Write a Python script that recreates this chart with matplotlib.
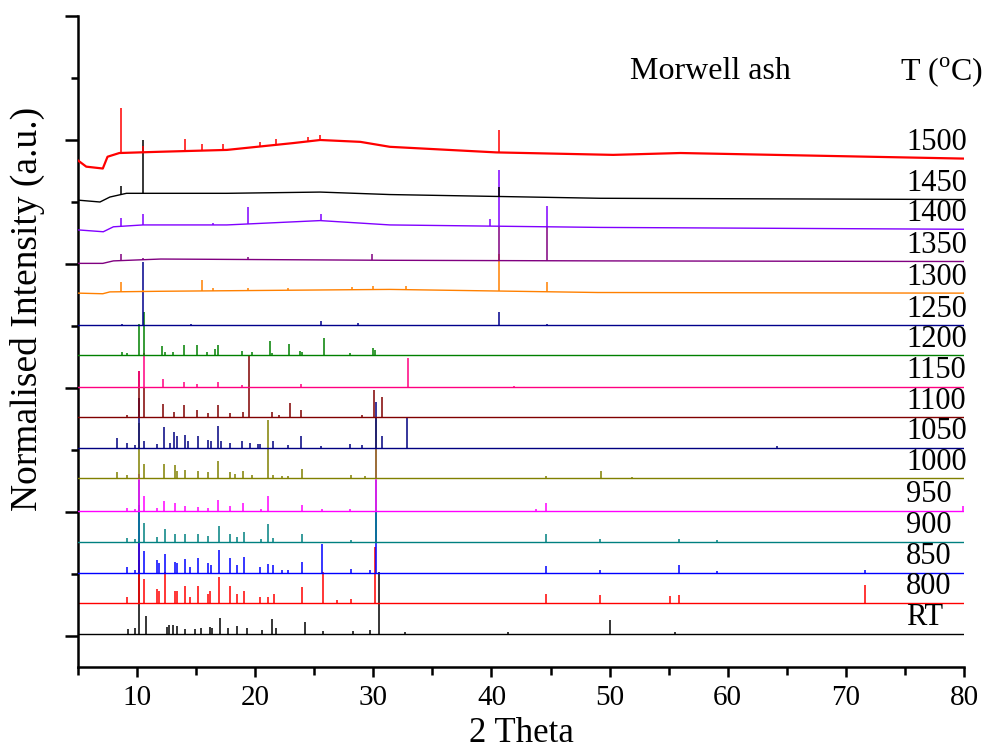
import numpy as np
import matplotlib
matplotlib.use('Agg')
import matplotlib.pyplot as plt

plt.rcParams['font.family'] = ['Liberation Serif', 'DejaVu Serif']
plt.rcParams['mathtext.fontset'] = 'custom'
plt.rcParams['mathtext.rm'] = 'Liberation Serif'

# sample temperatures, colours and vertical offsets (a.u.)
labels = ['RT', '800', '850', '900', '950', '1000', '1050', '1100',
          '1150', '1200', '1250', '1300', '1350', '1400', '1450', '1500']
colors = ['#000000', '#ff0000', '#0000ff', '#008080', '#ff00ff', '#808000',
          '#000080', '#800000', '#ff0080', '#008000', '#00008b', '#ff8000',
          '#800080', '#8000ff', '#000000', '#ff0000']
offsets = [0.03, 0.53, 1.02, 1.52, 2.02, 2.54, 3.04, 3.53,
           4.02, 4.53, 5.01, 5.53, 6.04, 6.56, 7.04, 7.70]

# curved baselines of the glassy high temperature samples (2theta, a.u.)
base_1300_x = [5, 7.1, 7.7, 12, 31.4, 49, 80]
base_1300_y = [5.53, 5.52, 5.55, 5.56, 5.59, 5.54, 5.53]
base_1350_x = [5, 7.1, 8, 12, 31, 49, 80]
base_1350_y = [6.01, 6.01, 6.05, 6.08, 6.06, 6.05, 6.04]
base_1400_x = [5, 7.14, 8.0, 10.5, 17.6, 25.5, 31.4, 49.2, 80]
base_1400_y = [6.55, 6.52, 6.60, 6.63, 6.63, 6.70, 6.63, 6.59, 6.56]
base_1450_x = [5, 6.86, 7.7, 9.1, 17.6, 25.5, 31.4, 49.2, 80]
base_1450_y = [7.03, 7.00, 7.08, 7.14, 7.14, 7.16, 7.12, 7.06, 7.04]
base_1500_x = [5, 5.7, 7.1, 7.5, 8.5, 11.9, 17.6, 23.2, 25.5, 28.9, 31.4, 40.4, 50.3, 56, 80]
base_1500_y = [7.67, 7.57, 7.54, 7.73, 7.79, 7.81, 7.84, 7.95, 8.0, 7.97, 7.89, 7.80, 7.76, 7.79, 7.70]

# peak lists: (2theta, height above baseline)
peaks_rt = [(9.26, 0.08), (9.83, 0.1), (10.2, 1.2), (10.73, 0.3), (12.5, 0.12), (12.7, 0.15),
            (13.07, 0.15), (13.35, 0.13), (14.06, 0.08), (14.9, 0.08), (15.4, 0.1), (16.2, 0.12),
            (16.37, 0.1), (17.0, 0.26), (17.73, 0.1), (18.5, 0.13), (19.27, 0.1), (20.55, 0.07),
            (21.4, 0.24), (21.73, 0.1), (24.2, 0.19), (25.77, 0.05), (28.3, 0.05), (29.7, 0.07),
            (30.48, 1.0), (32.7, 0.03), (41.4, 0.03), (50.03, 0.23), (55.5, 0.03)]
peaks_800 = [(9.15, 0.1), (10.2, 1.0), (10.6, 0.39), (11.66, 0.23), (11.86, 0.2), (12.34, 0.5),
             (13.2, 0.19), (13.35, 0.2), (14.06, 0.27), (14.5, 0.1), (15.2, 0.27), (16.0, 0.15),
             (16.2, 0.2), (16.96, 0.42), (17.86, 0.28), (18.43, 0.15), (19.05, 0.2), (20.4, 0.1),
             (21.1, 0.1), (21.6, 0.15), (24.0, 0.26), (25.7, 0.5), (26.9, 0.05), (28.1, 0.06),
             (30.14, 0.9), (44.62, 0.14), (49.19, 0.13), (55.1, 0.11), (55.9, 0.13), (71.62, 0.3)]
peaks_850 = [(9.18, 0.09), (9.83, 0.05), (10.19, 1.1), (10.59, 0.35), (11.66, 0.2), (11.86, 0.15),
             (12.36, 0.3), (13.21, 0.18), (13.35, 0.15), (14.1, 0.22), (14.48, 0.1), (15.19, 0.23),
             (16.03, 0.15), (16.26, 0.12), (16.94, 0.37), (17.87, 0.23), (18.43, 0.12), (19.05, 0.25),
             (20.41, 0.1), (21.06, 0.14), (21.54, 0.12), (22.24, 0.05), (22.8, 0.05), (23.93, 0.18),
             (25.63, 0.46), (28.11, 0.06), (29.72, 0.04), (30.2, 1.0), (44.62, 0.11), (49.19, 0.05),
             (55.9, 0.12), (59.07, 0.03), (71.62, 0.04)]
peaks_900 = [(9.18, 0.06), (9.83, 0.05), (10.19, 1.0), (10.59, 0.3), (11.66, 0.08), (12.36, 0.2),
             (13.21, 0.12), (14.1, 0.12), (15.19, 0.12), (16.03, 0.1), (16.94, 0.25), (17.87, 0.12),
             (18.43, 0.08), (19.05, 0.15), (20.46, 0.05), (21.06, 0.28), (21.54, 0.06), (23.93, 0.13),
             (28.11, 0.03), (30.2, 1.0), (44.62, 0.13), (49.19, 0.05), (55.9, 0.05), (59.07, 0.02)]
peaks_950 = [(9.18, 0.05), (9.83, 0.03), (10.19, 0.6), (10.59, 0.23), (11.66, 0.05), (12.31, 0.15),
             (13.21, 0.12), (14.1, 0.08), (15.19, 0.06), (16.03, 0.05), (16.88, 0.17), (17.87, 0.08),
             (19.0, 0.12), (20.46, 0.03), (21.06, 0.24), (23.93, 0.1), (25.63, 0.03), (28.03, 0.03),
             (30.2, 1.0), (43.8, 0.02), (44.62, 0.12), (79.9, 0.08)]
peaks_1000 = [(8.27, 0.11), (9.18, 0.06), (10.19, 0.9), (10.59, 0.24), (12.28, 0.24), (13.21, 0.22),
              (13.35, 0.12), (14.06, 0.13), (15.13, 0.12), (16.03, 0.1), (16.88, 0.28), (17.87, 0.1),
              (18.29, 0.08), (19.0, 0.12), (19.7, 0.06), (21.06, 0.94), (21.54, 0.06), (22.24, 0.04),
              (22.8, 0.04), (23.93, 0.15), (28.11, 0.05), (29.3, 0.04), (30.2, 1.0), (44.62, 0.04),
              (49.27, 0.12), (51.9, 0.02)]
peaks_1050 = [(8.27, 0.15), (9.18, 0.07), (9.83, 0.04), (10.19, 0.8), (10.59, 0.1), (11.66, 0.05),
              (12.28, 0.33), (12.79, 0.08), (13.15, 0.25), (13.35, 0.18), (14.06, 0.2), (14.34, 0.1),
              (15.13, 0.18), (16.03, 0.12), (16.26, 0.1), (16.82, 0.35), (17.1, 0.1), (17.87, 0.08),
              (18.85, 0.1), (19.56, 0.08), (20.26, 0.05), (20.41, 0.05), (21.54, 0.11), (22.8, 0.04),
              (23.88, 0.19), (25.6, 0.03), (28.03, 0.06), (29.0, 0.04), (30.2, 0.73), (30.76, 0.19),
              (32.82, 0.47), (64.2, 0.02)]
peaks_1100 = [(9.18, 0.04), (10.19, 0.75), (10.59, 0.47), (12.22, 0.21), (13.13, 0.09), (14.0, 0.19),
              (15.05, 0.12), (16.03, 0.06), (16.82, 0.2), (17.87, 0.06), (19.0, 0.08), (19.48, 0.98),
              (21.45, 0.09), (22.0, 0.04), (22.92, 0.23), (23.88, 0.12), (29.0, 0.04), (30.09, 0.44),
              (30.7, 0.33)]
peaks_1150 = [(10.19, 0.25), (10.59, 0.55), (12.22, 0.12), (14.0, 0.08), (15.05, 0.05), (16.82, 0.07),
              (18.85, 0.03), (23.88, 0.05), (32.96, 0.46), (41.9, 0.02)]
peaks_1200 = [(8.7, 0.05), (9.12, 0.04), (10.19, 0.5), (10.55, 0.7), (12.08, 0.15), (12.4, 0.05),
              (13.07, 0.05), (14.0, 0.16), (15.05, 0.16), (15.9, 0.05), (16.6, 0.1), (16.82, 0.16),
              (18.85, 0.06), (19.7, 0.05), (21.25, 0.23), (21.45, 0.04), (22.89, 0.18), (23.8, 0.06),
              (23.95, 0.05), (25.83, 0.28), (28.03, 0.03), (30.0, 0.11), (30.1, 0.08)]
peaks_1250 = [(8.7, 0.03), (10.53, 1.02), (14.6, 0.03), (25.6, 0.07), (28.7, 0.04), (40.66, 0.21),
              (44.7, 0.03)]
peaks_1300 = [(8.64, 0.16), (10.53, 0.03), (15.47, 0.17), (16.4, 0.04), (19.4, 0.04), (22.8, 0.04),
              (28.2, 0.05), (29.95, 0.06), (32.77, 0.06), (40.66, 0.6), (44.73, 0.16)]
peaks_1350 = [(8.64, 0.1), (10.53, 0.03), (19.4, 0.04), (29.86, 0.1), (40.66, 0.56), (44.73, 0.56)]
peaks_1400 = [(8.64, 0.13), (10.53, 0.18), (16.4, 0.03), (19.36, 0.28), (25.6, 0.1), (39.9, 0.12),
              (40.66, 0.9), (44.73, 0.34)]
peaks_1450 = [(8.64, 0.13), (10.53, 0.86), (40.66, 0.16)]
peaks_1500 = [(8.64, 0.72), (10.53, 0.1), (14.06, 0.19), (15.47, 0.1), (17.25, 0.1), (20.4, 0.07),
              (21.76, 0.1), (24.5, 0.07), (25.5, 0.08), (40.66, 0.37)]

all_peaks = [peaks_rt, peaks_800, peaks_850, peaks_900, peaks_950, peaks_1000, peaks_1050,
             peaks_1100, peaks_1150, peaks_1200, peaks_1250, peaks_1300, peaks_1350,
             peaks_1400, peaks_1450, peaks_1500]
curved = {'1300': (base_1300_x, base_1300_y), '1350': (base_1350_x, base_1350_y),
          '1400': (base_1400_x, base_1400_y), '1450': (base_1450_x, base_1450_y),
          '1500': (base_1500_x, base_1500_y)}

fig = plt.figure(figsize=(9.86, 7.55), dpi=100)
ax = fig.add_axes([0.0791, 0.1166, 0.8986, 0.8622])

for i, (lab, col, off, pk) in enumerate(zip(labels, colors, offsets, all_peaks)):
    if lab in curved:
        bx, by = curved[lab]
    else:
        bx, by = [5, 80], [off, off]
    lw = 1.6 if lab == '1500' else 1.0
    ax.plot(bx, by, color=col, lw=lw, zorder=i + 1)
    pos = np.array([p[0] for p in pk])
    hts = np.array([p[1] for p in pk])
    b0 = np.interp(pos, bx, by)
    ax.vlines(pos, b0, b0 + hts, color=col, lw=1.1, zorder=i + 1)
    ax.text(75.1, by[-1] + 0.26, lab, fontsize=22, ha='left', va='center', zorder=30)

ax.text(51.7, 9.1, 'Morwell ash', fontsize=23, ha='left', va='center')
ax.text(74.6, 9.1, r'T ($^{\rm o}$C)', fontsize=23, ha='left', va='center', clip_on=False)

ax.set_xlim(5, 80)
ax.set_ylim(-0.5, 10)
ax.set_xticks(range(10, 81, 10))
ax.set_xticks(range(5, 81, 5), minor=True)
ax.set_yticks(range(0, 11, 2))
ax.set_yticks(range(1, 10, 2), minor=True)
ax.set_yticklabels([])
ax.spines['top'].set_visible(False)
ax.spines['right'].set_visible(False)
for s in ['left', 'bottom']:
    ax.spines[s].set_linewidth(1.8)
ax.tick_params(axis='x', which='major', direction='out', length=7, width=1.8, labelsize=21, pad=6)
ax.tick_params(axis='x', which='minor', direction='out', length=6, width=1.8)
ax.tick_params(axis='y', which='major', direction='out', length=9.5, width=1.8)
ax.tick_params(axis='y', which='minor', direction='out', length=5, width=1.8)

ax.set_xlabel('2 Theta', fontsize=25, labelpad=4)
ax.set_ylabel('Normalised Intensity (a.u.)', fontsize=27)
ax.yaxis.set_label_coords(-0.037, 0.55)

fig.savefig('out.png', dpi=100)
